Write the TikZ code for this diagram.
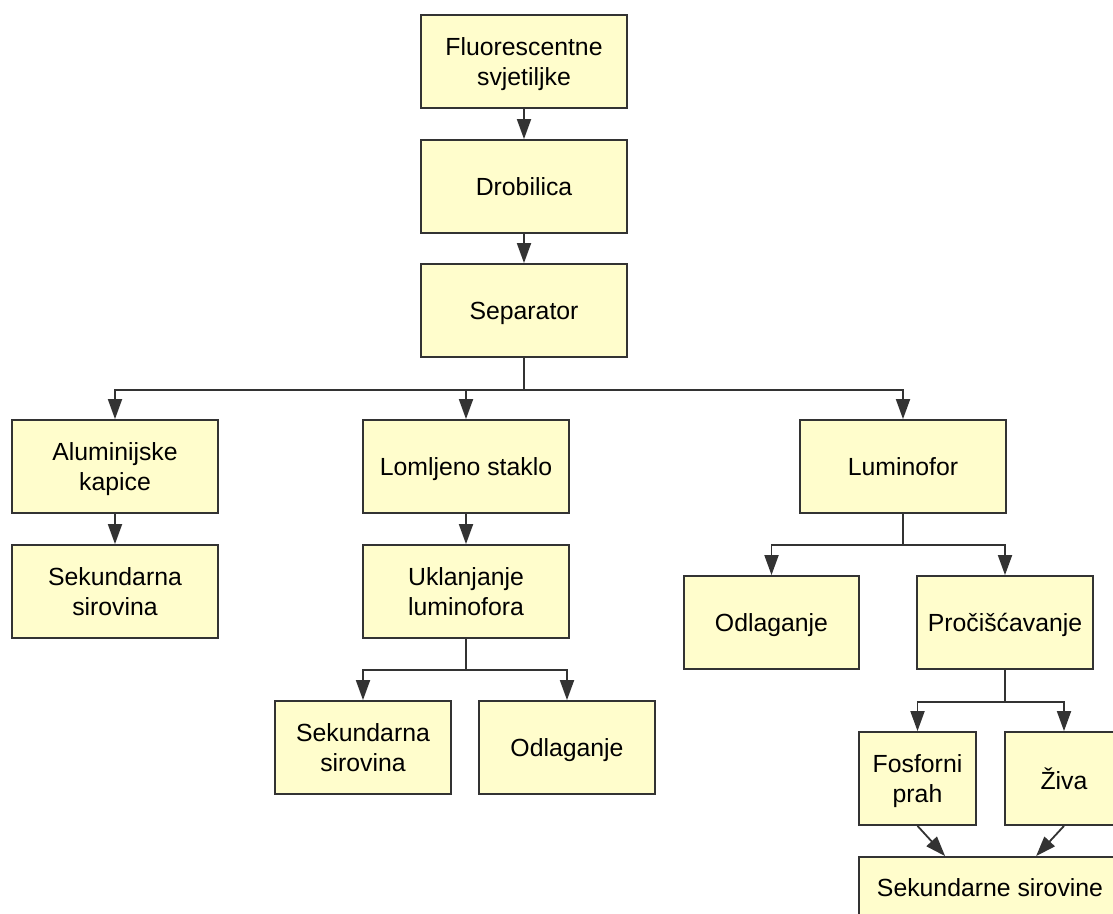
\documentclass[tikz,border=0pt]{standalone}
\usepackage{fontspec}
\setmainfont{Liberation Sans}
\usetikzlibrary{arrows.meta}
\definecolor{boxfill}{HTML}{FFFDCC}
\definecolor{boxline}{HTML}{333333}
\tikzset{
  box/.style={draw=boxline, line width=1.8pt, fill=boxfill, rectangle,
    minimum width=206pt, minimum height=93pt, inner sep=2pt, align=center,
    text depth=0pt,
    font=\fontsize{24.8pt}{29.5pt}\selectfont},
  conn/.style={draw=boxline, line width=1.8pt},
  arr/.style={conn, -{Triangle[length=20pt,width=14pt]}},
}
\begin{document}
\begin{tikzpicture}[x=1pt,y=-1pt]
\useasboundingbox (0,0) rectangle (1113,913);
\clip (0,0) rectangle (1113,913);
\node[box] (fl) at (524,61.5) {Fluorescentne\\svjetiljke};
\node[box] (dr) at (524,186.5) {Drobilica};
\node[box] (se) at (524,310.5) {Separator};
\node[box] (al) at (115,466.5) {Aluminijske\\kapice};
\node[box] (sk1) at (115,591.5) {Sekundarna\\sirovina};
\node[box] (lo) at (466,466.5) {Lomljeno staklo};
\node[box] (uk) at (466,591.5) {Uklanjanje\\luminofora};
\node[box] (lu) at (903,466.5) {Luminofor};
\node[box, minimum width=175pt] (od2) at (771.5,622.5) {Odlaganje};
\node[box, minimum width=176pt] (pr) at (1005,622.5) {Pročišćavanje};
\node[box, minimum width=176pt] (sk2) at (363,747.5) {Sekundarna\\sirovina};
\node[box, minimum width=176pt] (od1) at (567,747.5) {Odlaganje};
\node[box, minimum width=117pt] (fo) at (917.5,778.5) {Fosforni\\prah};
\node[box, minimum width=118pt] (zi) at (1064,778.5) {Živa};
\node[box, minimum width=262pt, minimum height=62pt] (sks) at (990,888) {Sekundarne sirovine};
% connectors
\draw[arr] (fl) -- (dr);
\draw[arr] (dr) -- (se);
\draw[conn] (se.south) -- ++(0,32) coordinate (j1);
\draw[arr] (j1) -| (al.north);
\draw[arr] (j1) -| (lo.north);
\draw[arr] (j1) -| (lu.north);
\draw[arr] (al) -- (sk1);
\draw[arr] (lo) -- (uk);
\draw[conn] (uk.south) -- ++(0,31) coordinate (j2);
\draw[arr] (j2) -| (sk2.north);
\draw[arr] (j2) -| (od1.north);
\draw[conn] (lu.south) -- ++(0,31) coordinate (j3);
\draw[arr] (j3) -| (od2.north);
\draw[arr] (j3) -| (pr.north);
\draw[conn] (pr.south) -- ++(0,32) coordinate (j4);
\draw[arr] (j4) -| (fo.north);
\draw[arr] (j4) -| (zi.north);
\draw[arr] (fo.south) -- ([xshift=87pt]sks.north west);
\draw[arr] (zi.south) -- ([xshift=178pt]sks.north west);
\end{tikzpicture}
\end{document}
